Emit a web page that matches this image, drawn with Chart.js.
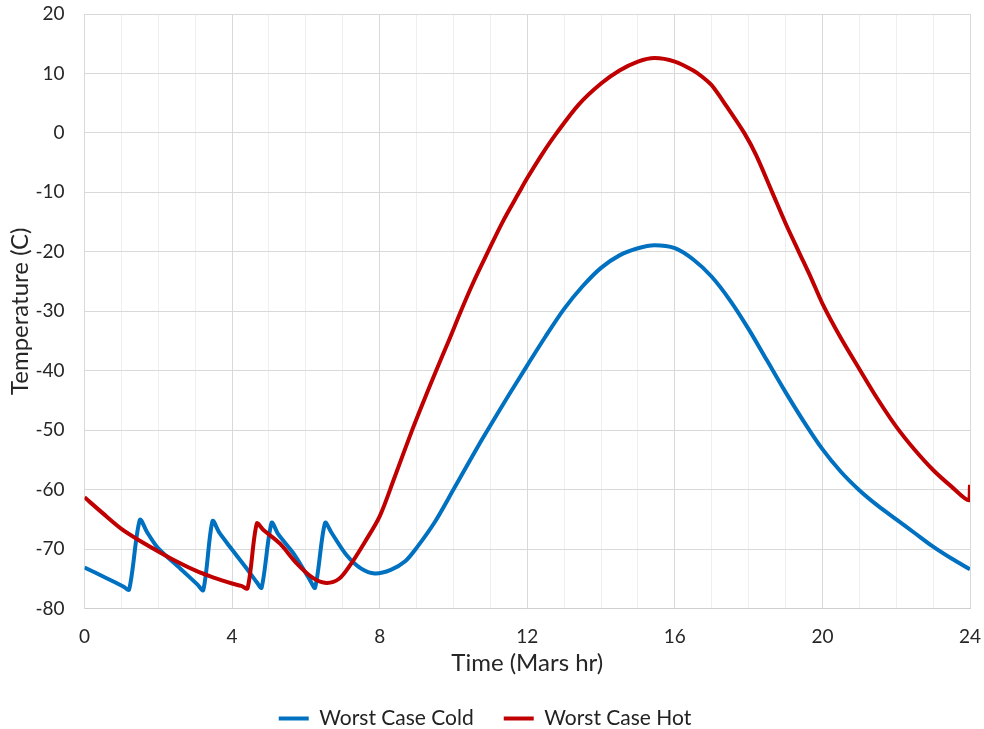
<!DOCTYPE html>
<html>
<head>
<meta charset="utf-8">
<script src="https://cdn.jsdelivr.net/npm/chart.js@4"></script>
<style>
  body { margin: 0; background: #fff; }
  #wrap { width: 984px; height: 729px; position: relative; }
</style>
</head>
<body>
<div id="wrap"><canvas id="tempChart"></canvas></div>
<script>
// Worst Case Cold (hour, temperature C)
const coldHours = [0, 0.6, 1.05, 1.21, 1.5, 1.7, 2.0, 2.6, 3.05, 3.22, 3.47, 3.65, 3.94, 4.4, 4.66, 4.8, 5.07, 5.25, 5.66, 6.1, 6.25, 6.52, 6.7, 7.1, 7.5, 7.87,
    8.3, 8.7, 9.0, 9.5, 10.0, 10.5, 11.0, 11.5, 12.0, 12.5, 13.0, 13.5, 14.0, 14.5, 15.0, 15.45, 16.0, 16.5, 17.0, 17.5,
    18.0, 18.5, 19.0, 19.5, 20.0, 20.5, 21.0, 21.5, 22.0, 22.5, 23.0, 23.5, 24.0];
const coldTemps = [-73.1, -74.9, -76.3, -76.8, -65.1, -67.2, -69.9, -73.3, -75.9, -76.9, -65.3, -67.2, -69.6, -73.3, -75.5, -76.5, -65.6, -67.5, -70.7, -75.1, -76.5, -65.6, -67.3, -71.0, -73.3, -74.1,
    -73.5, -72.0, -69.8, -65.4, -60.0, -54.5, -49.2, -44.1, -39.1, -34.2, -29.6, -25.8, -22.7, -20.6, -19.4, -18.9, -19.4, -21.3, -24.2, -28.2,
    -33.0, -38.3, -43.6, -48.6, -53.2, -57.0, -60.1, -62.7, -65.0, -67.3, -69.6, -71.6, -73.4];

// Worst Case Hot (hour, temperature C)
const hotHours = [0, 0.5, 1.0, 1.5, 2.0, 2.5, 3.0, 3.5, 4.0, 4.25, 4.42, 4.67, 4.85, 5.3, 5.75, 6.2, 6.56, 6.9, 7.2, 7.6, 8.0, 8.4, 8.88,
    9.2, 9.53, 9.87, 10.2, 10.55, 10.92, 11.33, 11.78, 12.0, 12.4, 12.8, 13.4, 14.0, 14.5, 15.0, 15.45, 16.0, 16.5, 16.75, 17.0, 17.4,
    17.88, 18.2, 18.64, 19.0, 19.36, 19.7, 20.0, 20.5, 21.0, 21.5, 22.0, 22.5, 23.0, 23.5, 23.97, 24.0];
const hotTemps = [-61.3, -64.0, -66.6, -68.6, -70.4, -72.1, -73.6, -74.8, -75.8, -76.2, -76.6, -65.7, -66.8, -69.1, -72.4, -74.9, -75.7, -75.0, -72.7, -68.8, -64.5, -58.0, -50.0,
    -45.0, -40.0, -35.0, -30.0, -25.0, -20.2, -15.0, -10.0, -7.6, -3.6, 0.0, 4.8, 8.3, 10.5, 12.0, 12.6, 12.0, 10.5, 9.4, 8.0, 4.5,
    0.0, -3.7, -10.0, -15.2, -20.0, -24.5, -28.7, -34.5, -39.7, -44.8, -49.4, -53.3, -56.7, -59.5, -61.8, -59.2];

const xTicks = [0, 4, 8, 12, 16, 20, 24];

const FONT = 'Lato, "Open Sans", sans-serif';

function toPoints(xs, ys) {
    return xs.map((x, i) => ({ x: x, y: ys[i] }));
}

const ctx = document.getElementById('tempChart').getContext('2d');
new Chart(ctx, {
    type: 'line',
    data: {
        datasets: [{
            label: 'Worst Case Cold',
            data: toPoints(coldHours, coldTemps),
            borderColor: '#0070C0',
            backgroundColor: '#0070C0',
            borderWidth: 4,
            pointRadius: 0,
            tension: 0.3,
            order: 2
        }, {
            label: 'Worst Case Hot',
            data: toPoints(hotHours, hotTemps),
            borderColor: '#C00000',
            backgroundColor: '#C00000',
            borderWidth: 4,
            pointRadius: 0,
            tension: 0.3,
            order: 1
        }]
    },
    options: {
        responsive: true,
        maintainAspectRatio: false,
        animation: false,
        layout: { padding: { left: 0, right: 14, top: 14, bottom: 0 } },
        plugins: {
            tooltip: { enabled: false },
            legend: {
                position: 'bottom',
                maxHeight: 51,
                labels: {
                    usePointStyle: true,
                    pointStyle: 'line',
                    pointStyleWidth: 30,
                    boxHeight: 20,
                    padding: 30,
                    color: '#222',
                    font: { family: FONT, size: 21 },
                    sort: (a, b) => a.datasetIndex - b.datasetIndex
                }
            }
        },
        scales: {
            x: {
                type: 'linear',
                min: 0,
                max: 24,
                afterFit: scale => { scale.height = 69.5; },
                ticks: {
                    stepSize: 1,
                    autoSkip: false,
                    maxRotation: 0,
                    padding: 0,
                    color: '#262626',
                    font: { family: FONT, size: 19 },
                    callback: v => xTicks.includes(v) ? v : ''
                },
                grid: {
                    tickLength: 17,
                    tickColor: 'transparent',
                    color: c => (c.tick && c.tick.value % 4 === 0) ? '#d9d9d9' : '#efefef'
                },
                border: { color: '#cfcfcf', width: 1 },
                title: {
                    display: true,
                    text: 'Time (Mars hr)',
                    color: '#262626',
                    font: { family: FONT, size: 24 },
                    padding: { top: 4, bottom: 0 }
                }
            },
            y: {
                min: -80,
                max: 20,
                afterFit: scale => { scale.width = 84.5; },
                ticks: {
                    stepSize: 10,
                    padding: 0,
                    color: '#262626',
                    font: { family: FONT, size: 19 }
                },
                grid: { tickLength: 20, tickColor: 'transparent', color: '#d9d9d9' },
                border: { color: '#d9d9d9' },
                title: {
                    display: true,
                    text: 'Temperature (C)',
                    color: '#262626',
                    font: { family: FONT, size: 24 },
                    padding: { top: 6, bottom: 0 }
                }
            }
        }
    }
});
</script>
</body>
</html>
